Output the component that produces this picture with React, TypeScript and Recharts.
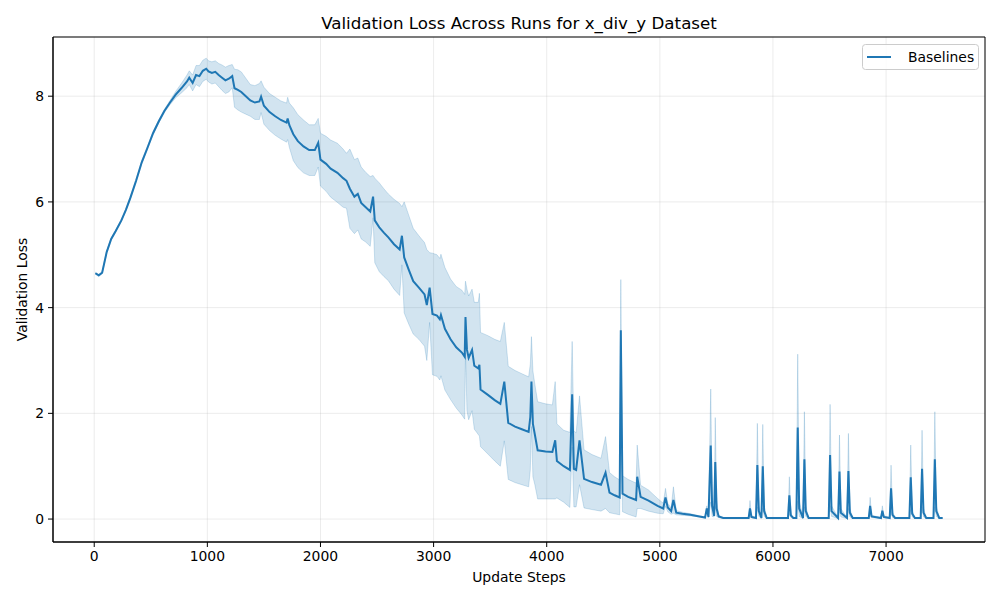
import React from 'react';
import { ComposedChart, Area, Line, XAxis, YAxis, CartesianGrid, ReferenceArea, Label } from 'recharts';

// update step of each evaluation point
const steps = [
  10, 40, 70, 110, 150, 190, 240, 280, 320, 370,
  420, 470, 520, 570, 620, 670, 720, 770, 820, 840,
  870, 900, 930, 960, 990, 1010, 1040, 1070, 1100, 1130,
  1160, 1190, 1220, 1240, 1270, 1300, 1340, 1380, 1420, 1460,
  1475, 1500, 1550, 1600, 1650, 1700, 1710, 1725, 1760, 1800,
  1850, 1900, 1950, 1980, 2000, 2050, 2090, 2150, 2200, 2230,
  2260, 2300, 2330, 2360, 2400, 2440, 2465, 2480, 2520, 2560,
  2600, 2650, 2700, 2720, 2740, 2780, 2820, 2870, 2920, 2940,
  2965, 2990, 3030, 3055, 3065, 3100, 3150, 3200, 3250, 3275,
  3282, 3295, 3310, 3340, 3360, 3395, 3405, 3415, 3480, 3540,
  3590, 3625, 3660, 3720, 3780, 3840, 3855, 3865, 3878, 3895,
  3920, 3990, 4050, 4075, 4090, 4150, 4205, 4225, 4240, 4260,
  4290, 4330, 4400, 4480, 4520, 4555, 4600, 4645, 4655, 4670,
  4720, 4790, 4800, 4830, 4900, 4980, 5030, 5050, 5070, 5100,
  5120, 5145, 5200, 5270, 5350, 5400, 5415, 5430, 5450, 5462,
  5480, 5490, 5502, 5520, 5560, 5785, 5797, 5810, 5850, 5862,
  5875, 5898, 5910, 5922, 5945, 6133, 6145, 6158, 6180, 6207,
  6219, 6232, 6266, 6278, 6290, 6315, 6493, 6505, 6518, 6576,
  6588, 6600, 6655, 6667, 6680, 6705, 6847, 6859, 6872, 6955,
  6967, 6980, 7032, 7044, 7057, 7080, 7206, 7218, 7231, 7255,
  7306, 7318, 7331, 7355, 7419, 7431, 7444, 7470, 7500,
];

// mean validation loss over runs
const meanLoss = [
  4.65, 4.61, 4.66, 5.05, 5.30, 5.45, 5.65, 5.85, 6.08, 6.40,
  6.75, 7.02, 7.30, 7.52, 7.72, 7.88, 8.03, 8.15, 8.28, 8.35,
  8.25, 8.40, 8.38, 8.48, 8.52, 8.47, 8.44, 8.46, 8.40, 8.35,
  8.30, 8.33, 8.38, 8.15, 8.12, 8.08, 8.00, 7.92, 7.88, 7.90,
  7.99, 7.82, 7.70, 7.62, 7.55, 7.50, 7.58, 7.45, 7.28, 7.15,
  7.05, 6.98, 6.98, 7.12, 6.80, 6.72, 6.63, 6.55, 6.45, 6.40,
  6.25, 6.10, 6.15, 5.98, 5.90, 5.82, 6.10, 5.65, 5.52, 5.42,
  5.33, 5.20, 5.10, 5.36, 4.95, 4.72, 4.50, 4.38, 4.25, 4.05,
  4.38, 3.88, 3.85, 3.78, 3.86, 3.60, 3.40, 3.25, 3.15, 3.07,
  3.82, 3.20, 3.05, 3.20, 2.90, 2.85, 2.92, 2.45, 2.35, 2.25,
  2.18, 2.60, 1.82, 1.75, 1.70, 1.65, 1.93, 2.60, 1.80, 1.60,
  1.30, 1.28, 1.27, 1.49, 1.10, 1.00, 0.93, 2.36, 0.95, 0.93,
  1.49, 0.76, 0.70, 0.65, 0.88, 0.50, 0.45, 0.41, 3.57, 0.48,
  0.42, 0.36, 0.80, 0.42, 0.35, 0.25, 0.20, 0.41, 0.22, 0.15,
  0.36, 0.12, 0.10, 0.08, 0.05, 0.03, 0.20, 0.04, 1.39, 0.25,
  0.06, 1.08, 0.20, 0.05, 0.02, 0.02, 0.20, 0.04, 0.02, 1.02,
  0.15, 0.02, 1.00, 0.15, 0.02, 0.02, 0.45, 0.07, 0.02, 0.02,
  1.73, 0.20, 0.02, 1.13, 0.15, 0.02, 0.02, 1.21, 0.15, 0.02,
  0.90, 0.12, 0.02, 0.91, 0.12, 0.02, 0.02, 0.25, 0.05, 0.02,
  0.16, 0.04, 0.02, 0.58, 0.08, 0.02, 0.02, 0.79, 0.10, 0.02,
  0.02, 0.95, 0.12, 0.02, 0.02, 1.13, 0.15, 0.02, 0.02,
];

// std across runs (shaded band = mean +/- std)
const stdLoss = [
  0.02, 0.02, 0.02, 0.02, 0.02, 0.02, 0.02, 0.02, 0.03, 0.03,
  0.03, 0.03, 0.03, 0.03, 0.03, 0.04, 0.06, 0.09, 0.12, 0.13,
  0.15, 0.18, 0.20, 0.20, 0.20, 0.20, 0.21, 0.21, 0.22, 0.24,
  0.25, 0.25, 0.22, 0.36, 0.38, 0.38, 0.34, 0.30, 0.32, 0.34,
  0.30, 0.35, 0.35, 0.36, 0.36, 0.37, 0.40, 0.42, 0.50, 0.50,
  0.50, 0.48, 0.48, 0.46, 0.50, 0.52, 0.54, 0.56, 0.55, 0.52,
  0.75, 0.70, 0.68, 0.68, 0.66, 0.66, 0.40, 0.80, 0.84, 0.83,
  0.82, 0.85, 0.87, 0.55, 1.05, 1.03, 1.00, 0.98, 0.98, 1.05,
  0.66, 1.15, 1.15, 1.15, 1.15, 1.16, 1.14, 1.15, 1.18, 1.18,
  0.68, 1.15, 1.17, 1.15, 1.20, 1.25, 1.35, 1.08, 1.12, 1.15,
  1.18, 1.12, 1.07, 1.06, 1.05, 1.04, 1.00, 0.85, 1.00, 0.95,
  0.92, 0.90, 0.89, 1.11, 0.70, 0.68, 0.71, 1.00, 0.72, 0.70,
  0.84, 0.55, 0.52, 0.50, 0.68, 0.38, 0.35, 0.33, 0.96, 0.34,
  0.33, 0.32, 0.60, 0.22, 0.20, 0.14, 0.10, 0.17, 0.08, 0.06,
  0.25, 0.04, 0.03, 0.02, 0.01, 0.01, 0.05, 0.01, 1.07, 0.20,
  0.02, 0.84, 0.15, 0.02, 0.01, 0.01, 0.15, 0.02, 0.01, 0.79,
  0.10, 0.01, 0.79, 0.10, 0.01, 0.01, 0.35, 0.04, 0.01, 0.01,
  1.39, 0.15, 0.01, 0.90, 0.10, 0.01, 0.01, 0.96, 0.10, 0.01,
  0.69, 0.08, 0.01, 0.71, 0.08, 0.01, 0.01, 0.16, 0.02, 0.01,
  0.09, 0.02, 0.01, 0.44, 0.05, 0.01, 0.01, 0.61, 0.06, 0.01,
  0.01, 0.73, 0.08, 0.01, 0.01, 0.90, 0.10, 0.01, 0.01,
];

const xTicks = [0, 1000, 2000, 3000, 4000, 5000, 6000, 7000];
const yTicks = [0, 2, 4, 6, 8];
const xDomain = [-364.5, 7874.5];
const yDomain = [-0.434, 9.12];

const BLUE = '#1f77b4';
const FONT = '"DejaVu Sans", sans-serif';
const tickStyle = { fill: '#000', fontSize: 13.9, fontFamily: FONT };

const chartData = steps.map((s, i) => ({
  step: s,
  mean: meanLoss[i],
  band: [meanLoss[i] - stdLoss[i], meanLoss[i] + stdLoss[i]],
}));

export default function App() {
  return (
    <div style={{ position: 'absolute', left: 0, top: 0, width: 1000, height: 600, background: '#fff' }}>
      <ComposedChart width={1000} height={600} data={chartData} margin={{ top: 37, right: 15, bottom: 0, left: 0 }}>
        <CartesianGrid stroke="#b0b0b0" strokeOpacity={0.3} strokeWidth={0.8} />
        <XAxis
          dataKey="step"
          type="number"
          domain={xDomain}
          ticks={xTicks}
          allowDataOverflow
          interval={0}
          height={58}
          tickSize={5}
          tickMargin={4}
          tick={tickStyle}
          axisLine={{ stroke: '#000' }}
          tickLine={{ stroke: '#000' }}
        >
          <Label
            content={() => (
              <text x={519} y={582} textAnchor="middle" fontSize={13.9} fontFamily={FONT} fill="#000">
                Update Steps
              </text>
            )}
          />
        </XAxis>
        <YAxis
          type="number"
          domain={yDomain}
          ticks={yTicks}
          allowDataOverflow
          interval={0}
          width={53}
          tickSize={5}
          tickMargin={4}
          tick={tickStyle}
          axisLine={{ stroke: '#000' }}
          tickLine={{ stroke: '#000' }}
        >
          <Label
            content={() => (
              <text
                x={27}
                y={289.5}
                transform="rotate(-90 27 289.5)"
                textAnchor="middle"
                fontSize={13.9}
                fontFamily={FONT}
                fill="#000"
              >
                Validation Loss
              </text>
            )}
          />
        </YAxis>
        <Area
          dataKey="band"
          type="linear"
          fill={BLUE}
          fillOpacity={0.2}
          stroke={BLUE}
          strokeOpacity={0.2}
          strokeWidth={1}
          isAnimationActive={false}
        />
        <Line dataKey="mean" type="linear" stroke={BLUE} strokeWidth={2} dot={false} isAnimationActive={false} />
        <ReferenceArea
          x1={xDomain[0]}
          x2={xDomain[1]}
          y1={yDomain[0]}
          y2={yDomain[1]}
          fill="none"
          stroke="#000"
          strokeWidth={1}
          ifOverflow="visible"
        />
      </ComposedChart>
      <svg width={1000} height={600} style={{ position: 'absolute', left: 0, top: 0, pointerEvents: 'none' }}>
        <text x={519} y={29} textAnchor="middle" fontSize={16.7} fontFamily={FONT} fill="#000">
          Validation Loss Across Runs for x_div_y Dataset
        </text>
        <rect x={862.5} y={44.5} width={116} height={25} rx={3} fill="#fff" fillOpacity={0.8} stroke="#cccccc" />
        <line x1={867} x2={891} y1={57} y2={57} stroke={BLUE} strokeWidth={2} />
        <text x={908} y={62} fontSize={13.9} fontFamily={FONT} fill="#000">
          Baselines
        </text>
      </svg>
    </div>
  );
}
